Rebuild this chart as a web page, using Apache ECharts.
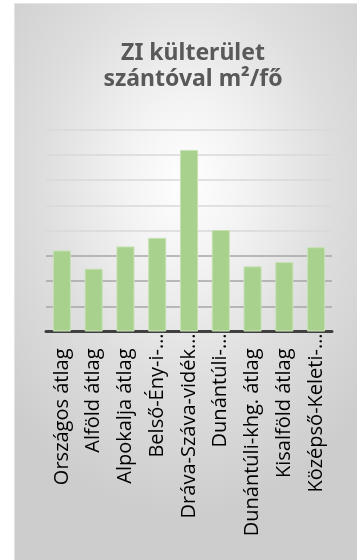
<!DOCTYPE html>
<html>
<head>
<meta charset="utf-8">
<script src="https://cdn.jsdelivr.net/npm/echarts@6/dist/echarts.min.js"></script>
<style>
    html, body { margin: 0; padding: 0; background: #fff; }
    #panel {
        position: absolute;
        left: 14px;
        top: 3px;
        width: 343px;
        height: 557px;
        border-top: 1px solid #e4e4e4;
        border-left: 1px solid #e4e4e4;
        box-sizing: border-box;
        background: radial-gradient(ellipse 70% 60% at 50% 32%, #ffffff 0%, #f3f3f3 25%, #dedede 60%, #cdcdcd 100%);
    }
</style>
</head>
<body>
<div id="panel"></div>
<script>
// kategóriák (tengelyfeliratok, ahogy a képen látszanak)
const categories = [
    'Országos átlag',
    'Alföld átlag',
    'Alpokalja átlag',
    'Belső-Ény-i-…',
    'Dráva-Száva-vidék…',
    'Dunántúli-…',
    'Dunántúli-khg. átlag',
    'Kisalföld átlag',
    'Középső-Keleti-…'
];
// ZI külterület szántóval, m2/fő (becsült értékek)
const values = [321, 249, 337, 371, 719, 402, 258, 275, 334];
const yMax = 800;
const yStep = 100;
// rácsvonalak színe alulról felfelé
const gridColors = ['#a6a6a6', '#a6a6a6', '#a6a6a6', '#a6a6a6', '#d9d9d9', '#d9d9d9', '#d9d9d9', '#d9d9d9', '#d9d9d9'];

const labelFont = { fontFamily: 'Open Sans', fontSize: 20, color: '#000' };

const myChart = echarts.init(document.getElementById('panel'));
const option = {
    animation: false,
    title: {
        text: 'ZI külterület\nszántóval m²/fő',
        left: 173,
        top: 31,
        textAlign: 'center',
        textStyle: {
            fontFamily: 'Noto Sans',
            fontWeight: 'bold',
            fontSize: 23,
            lineHeight: 26,
            color: '#595959'
        }
    },
    grid: {
        top: 125.5,
        left: 31,
        right: 25,
        bottom: 228.5,
        outerBoundsMode: 'none'
    },
    xAxis: {
        type: 'category',
        data: categories,
        axisLine: {
            lineStyle: { color: '#404040', width: 3 }
        },
        axisTick: { show: false },
        axisLabel: {
            interval: 0,
            rotate: 90,
            margin: 2,
            fontFamily: 'Open Sans',
            fontSize: 20,
            color: '#000',
            // a levágott (…) feliratok közvetlenül a tengely alatt kezdődnek
            formatter: function (v) {
                return v.endsWith('…') ? '{t|' + v + '}' : '{n|' + v + '}';
            },
            rich: {
                t: Object.assign({ padding: [0, 0, 0, 0] }, labelFont),
                n: Object.assign({ padding: [0, 15, 0, 0] }, labelFont)
            }
        }
    },
    yAxis: {
        type: 'value',
        min: 0,
        max: yMax,
        interval: yStep,
        axisLabel: { show: false },
        axisLine: { show: false },
        axisTick: { show: false },
        splitLine: {
            lineStyle: { color: gridColors, width: 1.5 }
        }
    },
    series: [
        {
            type: 'bar',
            data: values,
            barWidth: '57%',
            itemStyle: {
                color: '#a9d18e',
                borderColor: '#c8e2b6',
                borderWidth: 1
            }
        }
    ]
};
myChart.setOption(option);
</script>
</body>
</html>
